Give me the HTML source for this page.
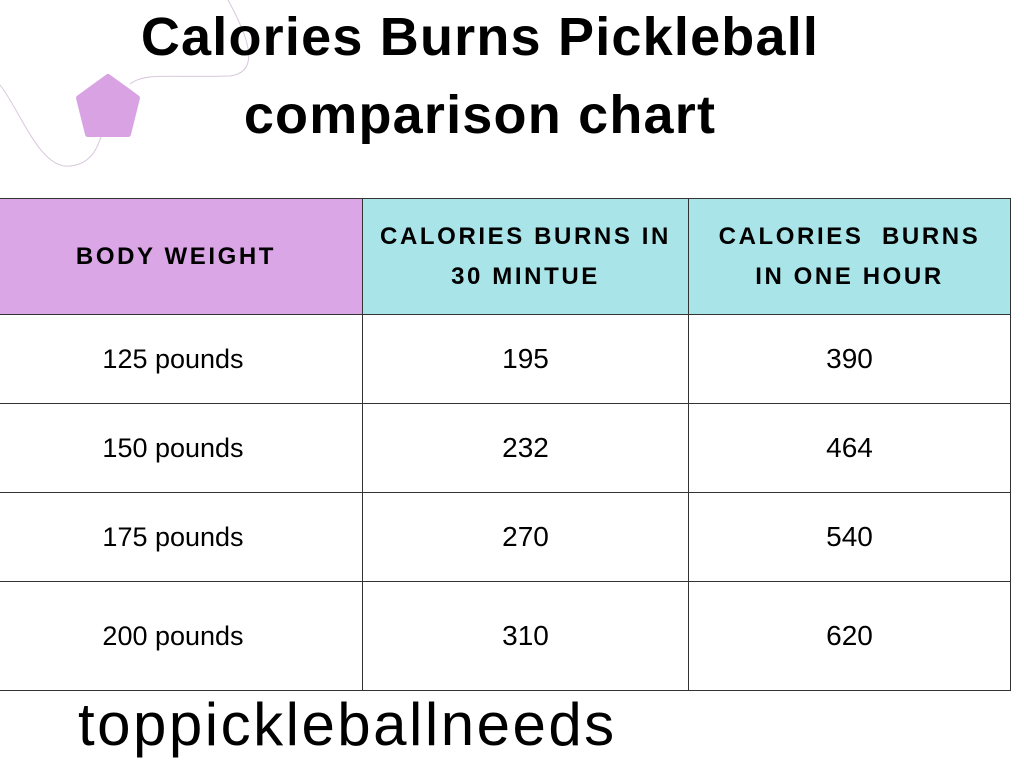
<!DOCTYPE html>
<html><head><meta charset="utf-8"><style>
body{margin:0;width:1024px;height:768px;background:#fff;position:relative;overflow:hidden;font-family:"Liberation Sans",sans-serif;color:#000}
.t{position:absolute;left:0;width:960px;text-align:center;font-weight:bold;font-size:54px;letter-spacing:1.2px}
table{position:absolute;left:-1px;top:198px;border-collapse:collapse;table-layout:fixed}
td{border:1px solid #333;text-align:center;padding:0}
.h{font-size:24px;font-weight:bold;letter-spacing:2.6px;line-height:40px}
.c{font-size:28px}
.w{font-size:27px;padding-right:16px}
</style></head><body>
<svg style="position:absolute;left:0;top:0" width="260" height="180">
<path d="M0,85 C20,110 40,170 70,166 C95,164 100,140 103,130" fill="none" stroke="#d8c8dc" stroke-width="1"/>
<path d="M130,84 C145,72 170,78 230,76 C260,72 250,40 228,0" fill="none" stroke="#d8c8dc" stroke-width="1"/>
<path d="M108,77 L137,98 L128,134 L88,134 L79,98 Z" fill="#d9a3e3" stroke="#d9a3e3" stroke-width="6" stroke-linejoin="round"/>
</svg>
<div class="t" style="top:6px">Calories Burns Pickleball</div>
<div class="t" style="top:84px">comparison chart</div>
<table>
<colgroup><col style="width:363px"><col style="width:326px"><col style="width:322px"></colgroup>
<tr style="height:116px">
<td class="h" style="background:#dba6e6;padding-right:10px">BODY WEIGHT</td>
<td class="h" style="background:#a9e4e9">CALORIES BURNS IN<br>30 MINTUE</td>
<td class="h" style="background:#a9e4e9">CALORIES&nbsp; BURNS<br>IN ONE HOUR</td></tr>
<tr style="height:89px"><td class="w">125 pounds</td><td class="c">195</td><td class="c">390</td></tr>
<tr style="height:89px"><td class="w">150 pounds</td><td class="c">232</td><td class="c">464</td></tr>
<tr style="height:89px"><td class="w">175 pounds</td><td class="c">270</td><td class="c">540</td></tr>
<tr style="height:109px"><td class="w">200 pounds</td><td class="c">310</td><td class="c">620</td></tr>
</table>
<div style="position:absolute;left:78px;top:690px;font-size:60px;letter-spacing:2.5px">toppickleballneeds</div>
</body></html>
